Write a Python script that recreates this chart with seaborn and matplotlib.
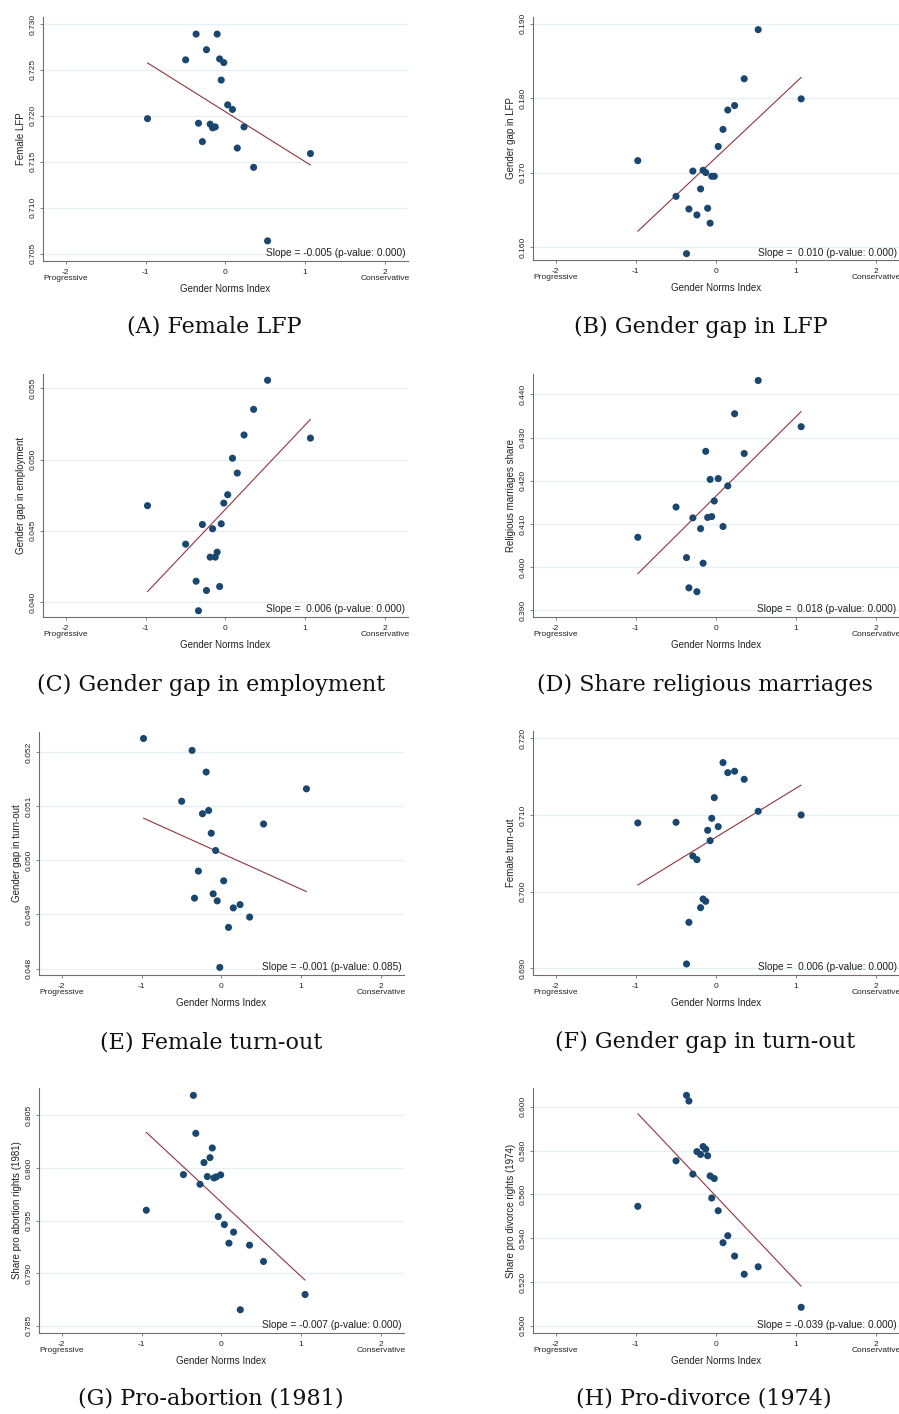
import numpy as np
import pandas as pd
import matplotlib
matplotlib.use("Agg")
import matplotlib.pyplot as plt
import seaborn as sns

# ---------------- data ----------------
gni = [-0.975, -0.497, -0.366, -0.336, -0.287, -0.236, -0.190, -0.159, -0.126, -0.102,
       -0.071, -0.051, -0.019, 0.030, 0.090, 0.150, 0.235, 0.355, 0.530, 1.067]
gni_1981 = [-0.940, -0.475, -0.350, -0.320, -0.267, -0.217, -0.175, -0.142, -0.113, -0.092,
            -0.063, -0.038, -0.008, 0.038, 0.096, 0.154, 0.238, 0.354, 0.529, 1.050]

female_lfp = [0.7197, 0.7261, 0.7289, 0.7192, 0.7172, 0.7272, 0.7191, 0.7187, 0.7188, 0.7289,
              0.7262, 0.7239, 0.7258, 0.7212, 0.7207, 0.7165, 0.7188, 0.7144, 0.7064, 0.7159]
gap_lfp = [0.1716, 0.1668, 0.1591, 0.1651, 0.1702, 0.1643, 0.1678, 0.1703, 0.1700, 0.1652,
           0.1632, 0.1695, 0.1695, 0.1735, 0.1758, 0.1784, 0.1790, 0.1826, 0.1892, 0.1799]
gap_emp = [0.04676, 0.04406, 0.04146, 0.03939, 0.04544, 0.04081, 0.04315, 0.04514, 0.04315, 0.04350,
           0.04109, 0.04549, 0.04694, 0.04753, 0.05009, 0.04905, 0.05172, 0.05352, 0.05556, 0.05150]
religious = [0.4069, 0.4139, 0.4022, 0.3952, 0.4114, 0.3943, 0.4089, 0.4009, 0.4268, 0.4115,
             0.4203, 0.4117, 0.4153, 0.4205, 0.4094, 0.4188, 0.4355, 0.4263, 0.4432, 0.4325]
gap_turnout = [0.05225, 0.05109, 0.05203, 0.04930, 0.04980, 0.05086, 0.05163, 0.05092, 0.05050, 0.04938,
               0.05018, 0.04925, 0.04802, 0.04962, 0.04876, 0.04912, 0.04918, 0.04895, 0.05067, 0.05132]
female_turnout = [0.70896, 0.70904, 0.69057, 0.69600, 0.70465, 0.70417, 0.69791, 0.69904, 0.69874, 0.70800,
                  0.70665, 0.70957, 0.71226, 0.70848, 0.71683, 0.71552, 0.71570, 0.71465, 0.71048, 0.71000]
pro_abortion = [0.79598, 0.79937, 0.80690, 0.80329, 0.79845, 0.80051, 0.79918, 0.80098, 0.80190, 0.79905,
                0.79915, 0.79538, 0.79934, 0.79462, 0.79285, 0.79390, 0.78652, 0.79266, 0.79111, 0.78797]
pro_divorce = [0.5545, 0.5753, 0.6052, 0.6026, 0.5692, 0.5795, 0.5782, 0.5818, 0.5806, 0.5776,
               0.5684, 0.5583, 0.5672, 0.5525, 0.5379, 0.5411, 0.5318, 0.5235, 0.5269, 0.5084]

# fitted (weighted) regression lines as shown in the reference: intercept and slope
fit_intercept = [0.72046, 0.17198, 0.04650, 0.41639, 0.05013, 0.70709, 0.79675, 0.55918]
fit_slope = [-0.00544, 0.01012, 0.005918, 0.01839, -0.000664, 0.00638, -0.00706, -0.03858]

y_labels = ["Female LFP", "Gender gap in LFP", "Gender gap in employment",
            "Religious marriages share", "Gender gap in turn-out", "Female turn-out",
            "Share pro abortion rights (1981)", "Share pro divorce rights (1974)"]
captions = ["(A) Female LFP", "(B) Gender gap in LFP", "(C) Gender gap in employment",
            "(D) Share religious marriages", "(E) Female turn-out", "(F) Gender gap in turn-out",
            "(G) Pro-abortion (1981)", "(H) Pro-divorce (1974)"]
slope_texts = ["Slope = -0.005 (p-value: 0.000)", "Slope =  0.010 (p-value: 0.000)",
               "Slope =  0.006 (p-value: 0.000)", "Slope =  0.018 (p-value: 0.000)",
               "Slope = -0.001 (p-value: 0.085)", "Slope =  0.006 (p-value: 0.000)",
               "Slope = -0.007 (p-value: 0.000)", "Slope = -0.039 (p-value: 0.000)"]
x_ticks = [-2, -1, 0, 1, 2]
x_tick_labels = ["-2\nProgressive", "-1", "0", "1", "2\nConservative"]
x_label = "Gender Norms Index"

y_ticks = [
    [0.705, 0.710, 0.715, 0.720, 0.725, 0.730],
    [0.160, 0.170, 0.180, 0.190],
    [0.040, 0.045, 0.050, 0.055],
    [0.390, 0.400, 0.410, 0.420, 0.430, 0.440],
    [0.048, 0.049, 0.050, 0.051, 0.052],
    [0.690, 0.700, 0.710, 0.720],
    [0.785, 0.790, 0.795, 0.800, 0.805],
    [0.500, 0.520, 0.540, 0.560, 0.580, 0.600],
]
y_lims = [(0.70421, 0.73076), (0.15825, 0.1909), (0.03895, 0.0560), (0.38845, 0.4447),
          (0.04788, 0.05237), (0.68913, 0.72095), (0.78431, 0.8076), (0.49667, 0.60854)]

series = [(gni, female_lfp), (gni, gap_lfp), (gni, gap_emp), (gni, religious),
          (gni, gap_turnout), (gni, female_turnout), (gni_1981, pro_abortion), (gni, pro_divorce)]

# ---------------- style ----------------
sns.set_theme(style="white")
plt.rcParams["font.family"] = ["Liberation Sans", "DejaVu Sans"]

W, H = 899, 1414
fig = plt.figure(figsize=(W / 100, H / 100), dpi=100)
fig.patch.set_facecolor("white")

# axes boxes in pixels: left, top, right, bottom
boxes = [(43, 17, 408, 261), (533, 17, 899, 260),
         (43, 374, 408, 617), (533, 374, 899, 617),
         (39, 732, 404, 975), (533, 731, 899, 975),
         (39, 1088, 404, 1333), (533, 1088, 899, 1333)]
cap_pos = [(214, 327), (701, 327), (211, 685), (705, 685),
           (211, 1042), (705, 1042), (211, 1399), (704, 1399)]

navy = "#1a476f"
maroon = "#90353b"
grid_c = "#e6eff1"
spine_c = "#6e6e6e"

for i in range(8):
    l, t, r, b = boxes[i]
    ax = fig.add_axes([l / W, 1 - b / H, (r - l) / W, (b - t) / H])
    x, y = series[i]
    df = pd.DataFrame({"x": x, "y": y})
    for yt in y_ticks[i]:
        ax.axhline(yt, color=grid_c, lw=0.9, zorder=0)
    xs = np.array([min(x), max(x)])
    fit = pd.DataFrame({"x": xs, "y": fit_intercept[i] + fit_slope[i] * xs})
    sns.lineplot(data=fit, x="x", y="y", ax=ax, color=maroon, lw=0.8, zorder=2)
    sns.scatterplot(data=df, x="x", y="y", ax=ax, s=26, color=navy,
                    edgecolor="none", linewidth=0, zorder=3)
    ax.set_xlim(-2.285, 2.29)
    ax.set_ylim(*y_lims[i])
    ax.set_xticks(x_ticks)
    ax.set_xticklabels(x_tick_labels, fontsize=6, linespacing=0.95, color="#222222")
    ax.set_yticks(y_ticks[i])
    ax.set_yticklabels([f"{v:.3f}" for v in y_ticks[i]], fontsize=6, rotation=90,
                       va="center", color="#222222")
    ax.tick_params(axis="both", which="major", length=2.5, width=0.6, color=spine_c,
                   direction="out", pad=2.2, bottom=True, left=True)
    ax.tick_params(axis="x", pad=3.0)
    ax.set_xlabel(x_label, fontsize=7, labelpad=1.5, color="#222222")
    ax.set_ylabel(y_labels[i], fontsize=7, color="#222222")
    ax.yaxis.set_label_coords(-17 / (r - l), 0.5)
    for s in ["top", "right"]:
        ax.spines[s].set_visible(False)
    for s in ["left", "bottom"]:
        ax.spines[s].set_color(spine_c)
        ax.spines[s].set_linewidth(0.8)
    ax.set_facecolor("white")
    ax.text(1 - 2.5 / (r - l), 7.5 / (b - t), slope_texts[i], transform=ax.transAxes,
            ha="right", va="center", fontsize=7.3, color="#222222", zorder=5)
    cx, cy = cap_pos[i]
    fig.text(cx / W, 1 - cy / H, captions[i], ha="center", va="center",
             fontsize=16, family="DejaVu Serif", color="#111111")

fig.savefig("out.png", dpi=100, facecolor="white")
